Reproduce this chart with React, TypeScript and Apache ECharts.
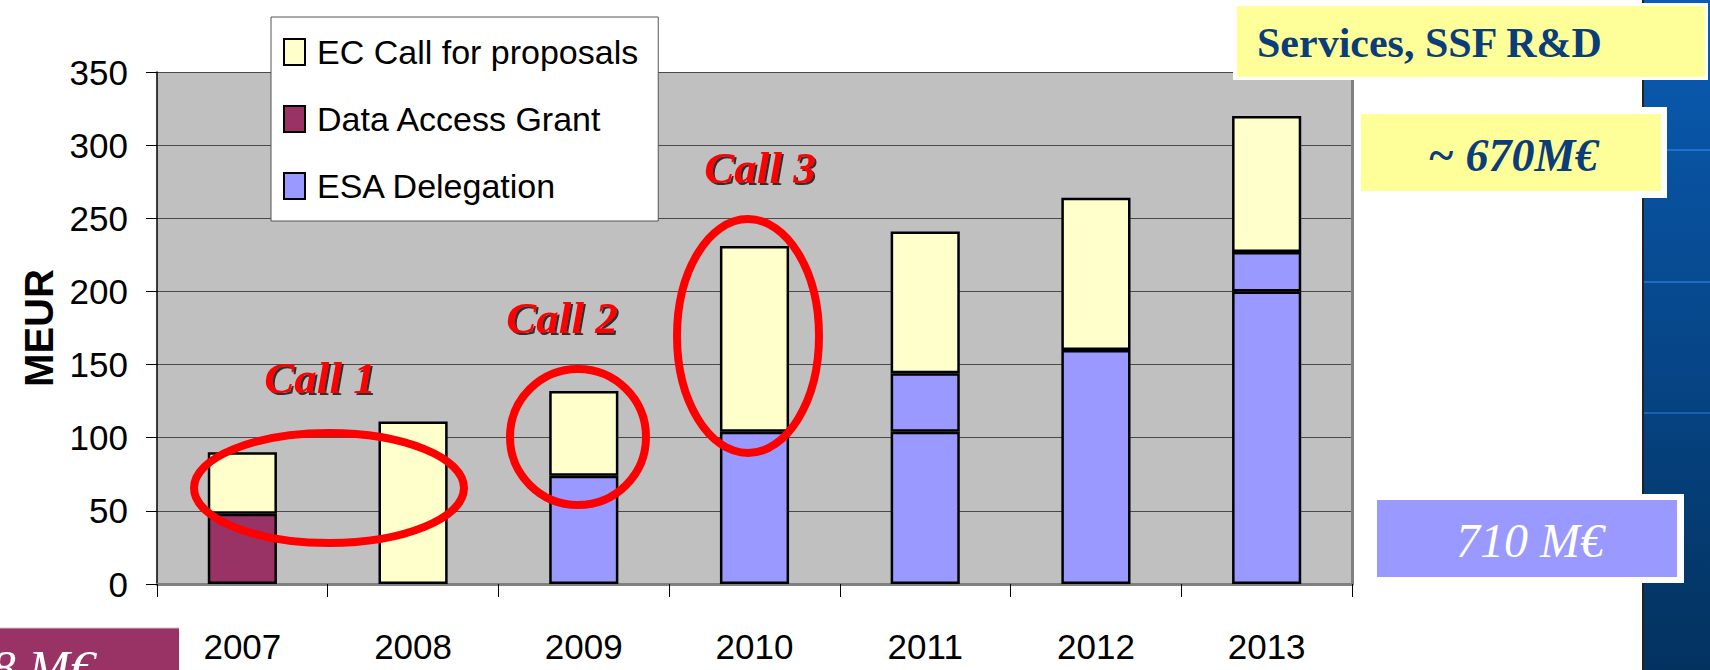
import React, { useEffect, useRef } from 'react';
import * as echarts from 'echarts';

// ---- data ----
const years = ['2007', '2008', '2009', '2010', '2011', '2012', '2013'];
const dataAccessGrant = [48, '-', '-', '-', '-', '-', '-'];
const esaDelegation = ['-', '-', 74, 104, 104, 160, 200];
const esaDelegationExtra = ['-', '-', '-', '-', 40, '-', 27];
const ecCallForProposals = [42, 111, 58, 127, 97, 104, 93];
const legendNames = ['EC Call for proposals', 'Data Access Grant', 'ESA Delegation'];
const axisName = 'MEUR';
const callLabels = ['Call 1', 'Call 2', 'Call 3'];
const boxTexts = ['Services, SSF R&D', '~ 670M€', '710 M€', '48 M€'];

const SANS = '"Liberation Sans", Arial, sans-serif';
const SERIF = '"Liberation Serif", "Times New Roman", serif';

export default function App() {
  const ref = useRef<HTMLDivElement>(null);

  useEffect(() => {
    if (!ref.current) return;
    const chart = echarts.init(ref.current, undefined, { renderer: 'svg' });

    const barBase = {
      type: 'bar',
      stack: 'total',
      barWidth: '40.5%',
      xAxisIndex: 0,
      yAxisIndex: 0,
    };
    const border = { borderColor: '#000000', borderWidth: 2.5 };

    const callStyle = (text: string, x: number, y: number) => ({
      type: 'text',
      x,
      y,
      z: 120,
      style: {
        text,
        fill: '#ff0000',
        font: `italic bold 45px ${SERIF}`,
        align: 'center',
        verticalAlign: 'middle',
        textShadowColor: 'rgba(0,0,0,0.75)',
        textShadowOffsetX: 2,
        textShadowOffsetY: 2,
        textShadowBlur: 1,
      },
    });

    const ellipse = (cx: number, cy: number, rx: number, ry: number) => ({
      type: 'ellipse',
      z: 110,
      shape: { cx, cy, rx, ry },
      style: { fill: 'none', stroke: '#ff0000', lineWidth: 8 },
    });

    const option: any = {
      animation: false,
      backgroundColor: '#ffffff',
      textStyle: { fontFamily: SANS },
      grid: {
        left: 157,
        right: 358,
        top: 72,
        bottom: 86,
        show: true,
        backgroundColor: '#c0c0c0',
        borderWidth: 0,
      },
      legend: {
        data: legendNames,
        orient: 'vertical',
        left: 271,
        top: 17,
        padding: [18, 20, 18, 12],
        itemGap: 33,
        itemWidth: 21,
        itemHeight: 26,
        icon: 'rect',
        backgroundColor: '#ffffff',
        borderColor: '#555555',
        borderWidth: 1,
        itemStyle: { borderColor: '#000000', borderWidth: 2 },
        textStyle: { fontSize: 34, color: '#000000', fontFamily: SANS, padding: [0, 0, 0, 7] },
      },
      xAxis: [
        {
          type: 'category',
          data: years,
          axisLine: { lineStyle: { color: '#000000', width: 1.5 } },
          axisTick: { show: true, length: 13, lineStyle: { color: '#000000', width: 1 } },
          axisLabel: { fontSize: 35, color: '#000000', margin: 45, fontFamily: SANS },
        },
        {
          type: 'category',
          data: years,
          position: 'top',
          axisLine: { lineStyle: { color: '#808080', width: 3 } },
          axisTick: { show: false },
          axisLabel: { show: false },
        },
      ],
      yAxis: [
        {
          type: 'value',
          min: 0,
          max: 350,
          interval: 50,
          name: axisName,
          nameLocation: 'middle',
          nameRotate: 90,
          nameGap: 97,
          nameTextStyle: { fontSize: 40, fontWeight: 'bold', color: '#000000', fontFamily: SANS },
          axisLine: { show: true, lineStyle: { color: '#000000', width: 1.5 } },
          axisTick: { show: true, length: 11, lineStyle: { color: '#000000', width: 1 } },
          axisLabel: { fontSize: 35, color: '#000000', margin: 29, fontFamily: SANS },
          splitLine: { show: true, lineStyle: { color: '#4a4a4a', width: 1 } },
        },
        {
          type: 'value',
          min: 0,
          max: 350,
          interval: 50,
          position: 'right',
          axisLine: { show: true, lineStyle: { color: '#808080', width: 3 } },
          axisTick: { show: false },
          axisLabel: { show: false },
          splitLine: { show: false },
        },
      ],
      series: [
        { ...barBase, name: 'Data Access Grant', data: dataAccessGrant, itemStyle: { color: '#993366', ...border } },
        { ...barBase, name: 'ESA Delegation', data: esaDelegation, itemStyle: { color: '#9999ff', ...border } },
        { ...barBase, name: 'ESA Delegation', data: esaDelegationExtra, itemStyle: { color: '#9999ff', ...border } },
        { ...barBase, name: 'EC Call for proposals', data: ecCallForProposals, itemStyle: { color: '#ffffcc', ...border } },
      ],
      graphic: [
        // right-hand blue band
        {
          type: 'rect',
          z: 90,
          shape: { x: 1643, y: 0, width: 67, height: 670 },
          style: {
            fill: {
              type: 'linear', x: 0, y: 0, x2: 0, y2: 1,
              colorStops: [
                { offset: 0, color: '#0a5cb5' },
                { offset: 1, color: '#03325f' },
              ],
            },
          },
        },
        { type: 'line', z: 91, shape: { x1: 1643, y1: 0, x2: 1643, y2: 670 }, style: { stroke: '#222222', lineWidth: 2 } },
        { type: 'line', z: 91, shape: { x1: 1644, y1: 150, x2: 1710, y2: 150 }, style: { stroke: '#1d72d6', lineWidth: 2 } },
        { type: 'line', z: 91, shape: { x1: 1644, y1: 282, x2: 1710, y2: 282 }, style: { stroke: '#1d6cc8', lineWidth: 2 } },
        { type: 'line', z: 91, shape: { x1: 1644, y1: 413, x2: 1710, y2: 413 }, style: { stroke: '#1a62b6', lineWidth: 2 } },

        // Services, SSF R&D box
        { type: 'rect', z: 100, shape: { x: 1233, y: 3, width: 475, height: 77 }, style: { fill: '#ffffff' } },
        { type: 'rect', z: 101, shape: { x: 1237, y: 6, width: 468, height: 71 }, style: { fill: '#ffff99' } },
        {
          type: 'text', z: 102, x: 1257, y: 43,
          style: { text: boxTexts[0], fill: '#0b3d7a', font: `bold 42px ${SERIF}`, align: 'left', verticalAlign: 'middle' },
        },

        // ~ 670M€ box
        { type: 'rect', z: 100, shape: { x: 1355, y: 107, width: 312, height: 91 }, style: { fill: '#ffffff' } },
        { type: 'rect', z: 101, shape: { x: 1361, y: 114, width: 300, height: 77 }, style: { fill: '#ffff99' } },
        {
          type: 'text', z: 102, x: 1513, y: 155,
          style: { text: boxTexts[1], fill: '#0b3d7a', font: `italic bold 46px ${SERIF}`, align: 'center', verticalAlign: 'middle' },
        },

        // 710 M€ box
        { type: 'rect', z: 100, shape: { x: 1371, y: 494, width: 313, height: 89 }, style: { fill: '#ffffff' } },
        { type: 'rect', z: 101, shape: { x: 1377, y: 500, width: 300, height: 77 }, style: { fill: '#9999ff' } },
        {
          type: 'text', z: 102, x: 1530, y: 540,
          style: { text: boxTexts[2], fill: '#ffffff', font: `italic 48px ${SERIF}`, align: 'center', verticalAlign: 'middle' },
        },

        // bottom-left purple box (cut off)
        { type: 'rect', z: 100, shape: { x: 0, y: 628, width: 179, height: 42 }, style: { fill: '#993366' } },
        { type: 'line', z: 101, shape: { x1: 0, y1: 628, x2: 179, y2: 628 }, style: { stroke: '#d8b8c8', lineWidth: 1 } },
        {
          type: 'text', z: 102, x: 95, y: 668,
          style: { text: boxTexts[3], fill: '#ffffff', font: `italic 50px ${SERIF}`, align: 'right', verticalAlign: 'middle' },
        },

        // red ellipses
        ellipse(329, 488, 135, 55),
        ellipse(578, 437, 68, 68),
        ellipse(748, 336, 71, 117),

        // call labels
        callStyle(callLabels[0], 320, 378),
        callStyle(callLabels[1], 562, 318),
        callStyle(callLabels[2], 760, 168),
      ],
    };

    chart.setOption(option);
    return () => chart.dispose();
  }, []);

  return (
    <div
      ref={ref}
      style={{ position: 'absolute', left: 0, top: 0, width: 1710, height: 670, background: '#ffffff' }}
    />
  );
}
